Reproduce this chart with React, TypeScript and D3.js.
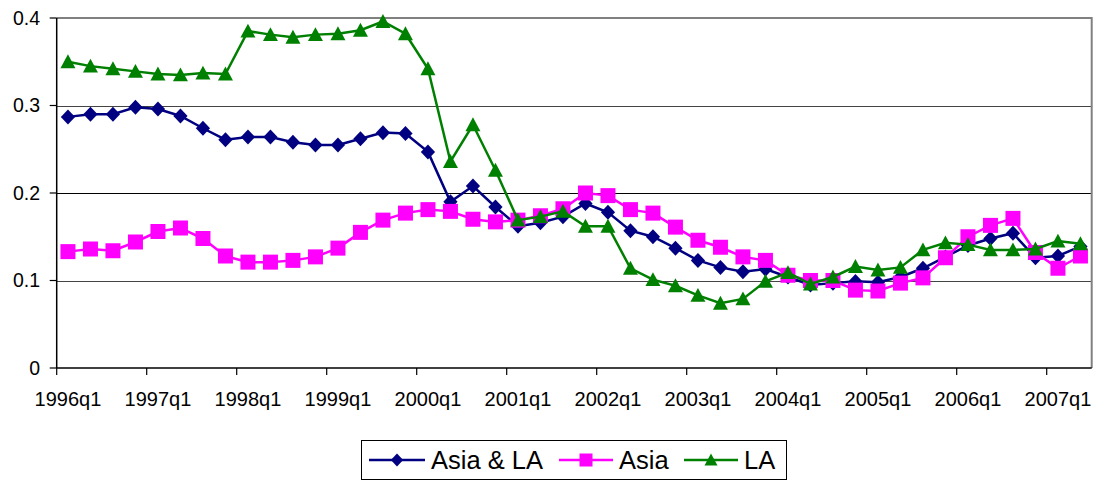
import { useMemo } from 'react';
import * as d3 from 'd3';

// quarters 1996q1 .. 2007q2
const years = d3.range(1996, 2008);
const quarters: string[] = years
  .flatMap(y => [1, 2, 3, 4].map(q => `${y}q${q}`))
  .slice(0, 46);

const asiaLA = [
  0.287, 0.290, 0.290, 0.298, 0.296, 0.288, 0.274, 0.261, 0.264, 0.264,
  0.258, 0.255, 0.255, 0.262, 0.269, 0.268, 0.247, 0.190, 0.208, 0.184,
  0.162, 0.166, 0.173, 0.188, 0.178, 0.157, 0.150, 0.137, 0.123, 0.115,
  0.110, 0.113, 0.104, 0.095, 0.097, 0.099, 0.098, 0.104, 0.114, 0.127,
  0.140, 0.148, 0.154, 0.126, 0.128, 0.139
];

const asia = [
  0.133, 0.136, 0.134, 0.144, 0.156, 0.160, 0.148, 0.128, 0.121, 0.121,
  0.123, 0.127, 0.137, 0.155, 0.169, 0.177, 0.181, 0.179, 0.170, 0.167,
  0.169, 0.174, 0.182, 0.200, 0.197, 0.181, 0.177, 0.161, 0.146, 0.138,
  0.127, 0.123, 0.106, 0.100, 0.100, 0.089, 0.088, 0.097, 0.103, 0.126,
  0.150, 0.163, 0.171, 0.132, 0.114, 0.128
];

const la = [
  0.350, 0.345, 0.342, 0.339, 0.336, 0.335, 0.337, 0.336, 0.385, 0.381,
  0.378, 0.381, 0.382, 0.386, 0.396, 0.382, 0.342, 0.236, 0.278, 0.226,
  0.169, 0.173, 0.179, 0.162, 0.162, 0.114, 0.101, 0.094, 0.083, 0.074,
  0.079, 0.099, 0.109, 0.096, 0.104, 0.116, 0.112, 0.115, 0.135, 0.143,
  0.141, 0.135, 0.135, 0.136, 0.145, 0.142
];

const yTicks = [0, 0.1, 0.2, 0.3, 0.4];

const series = [
  { name: 'Asia & LA', values: asiaLA, color: '#000080', marker: 'diamond' },
  { name: 'Asia', values: asia, color: '#FF00FF', marker: 'square' },
  { name: 'LA', values: la, color: '#008000', marker: 'triangle' }
];

const W = 1099;
const H = 481;
const FONT = 'Liberation Sans, Arial, Helvetica, sans-serif';

function markerPath(type: string, s: number) {
  if (type === 'diamond') return `M0,${-s} L${s * 0.95},0 L0,${s} L${-s * 0.95},0 Z`;
  if (type === 'square') return `M${-s},${-s} H${s} V${s} H${-s} Z`;
  return `M0,${-s} L${s},${s * 0.85} L${-s},${s * 0.85} Z`;
}

export default function App() {
  const left = 56.7;
  const right = 1091.7;
  const top = 18;
  const bottom = 368;

  const x = useMemo(
    () => d3.scaleBand<string>().domain(quarters).range([left, right]).padding(0),
    []
  );
  const y = useMemo(() => d3.scaleLinear().domain([0, 0.4]).range([bottom, top]), []);
  const cx = (q: string) => (x(q) ?? 0) + x.bandwidth() / 2;

  const line = d3
    .line<number>()
    .x((_, i) => cx(quarters[i]))
    .y(d => y(d));

  // legend layout
  const legend = [
    { lx0: 369, lx1: 425, tx: 431 },
    { lx0: 559, lx1: 613, tx: 619 },
    { lx0: 684, lx1: 738, tx: 744 }
  ];

  return (
    <svg
      width={W}
      height={H}
      style={{ position: 'absolute', left: 0, top: 0, background: '#fff' }}
      fontFamily={FONT}
    >
      {/* gridlines */}
      {yTicks.filter(t => t > 0 && t < 0.4).map(t => (
        <line
          key={t}
          x1={left}
          x2={right}
          y1={Math.round(y(t)) + 0.5}
          y2={Math.round(y(t)) + 0.5}
          stroke={t === 0.2 ? '#000' : '#444'}
          strokeWidth={1}
        />
      ))}
      {/* plot border top + right */}
      <path
        d={`M${left},${top} H${right} V${bottom}`}
        fill="none"
        stroke="#808080"
        strokeWidth={2}
      />
      {/* y axis */}
      <line x1={left} x2={left} y1={top} y2={bottom} stroke="#000" strokeWidth={1.5} />
      {yTicks.map(t => (
        <g key={t}>
          <line x1={left - 7} x2={left} y1={y(t)} y2={y(t)} stroke="#000" strokeWidth={1.2} />
          <text
            x={40}
            y={y(t)}
            dy="0.35em"
            textAnchor="end"
            fontSize={19.5}
            fill="#000"
          >
            {t === 0 ? '0' : t.toFixed(1)}
          </text>
        </g>
      ))}
      {/* x axis */}
      <line x1={left} x2={right} y1={bottom} y2={bottom} stroke="#000" strokeWidth={1.5} />
      {quarters.map((q, i) =>
        i % 4 === 0 ? (
          <g key={q}>
            <line
              x1={x(q)}
              x2={x(q)}
              y1={bottom}
              y2={bottom + 7}
              stroke="#000"
              strokeWidth={1.2}
            />
            <text x={cx(q)} y={405.5} textAnchor="middle" fontSize={20} fill="#000">
              {q}
            </text>
          </g>
        ) : null
      )}

      {/* series */}
      {series.map(s => (
        <g key={s.name}>
          <path d={line(s.values) ?? ''} fill="none" stroke={s.color} strokeWidth={2.5} />
          {s.values.map((v, i) => (
            <path
              key={i}
              d={markerPath(s.marker, 7.5)}
              transform={`translate(${cx(quarters[i])},${y(v)})`}
              fill={s.color}
            />
          ))}
        </g>
      ))}

      {/* legend */}
      <rect x={361.5} y={440.5} width={425} height={39} fill="#fff" stroke="#000" strokeWidth={1} />
      {series.map((s, i) => {
        const l = legend[i];
        const ly = 460;
        return (
          <g key={s.name}>
            <line x1={l.lx0} x2={l.lx1} y1={ly} y2={ly} stroke={s.color} strokeWidth={2.5} />
            <path
              d={markerPath(s.marker, 6.5)}
              transform={`translate(${(l.lx0 + l.lx1) / 2},${ly})`}
              fill={s.color}
            />
            <text x={l.tx} y={ly} dy="0.36em" fontSize={25.5} fill="#000">
              {s.name}
            </text>
          </g>
        );
      })}
    </svg>
  );
}
